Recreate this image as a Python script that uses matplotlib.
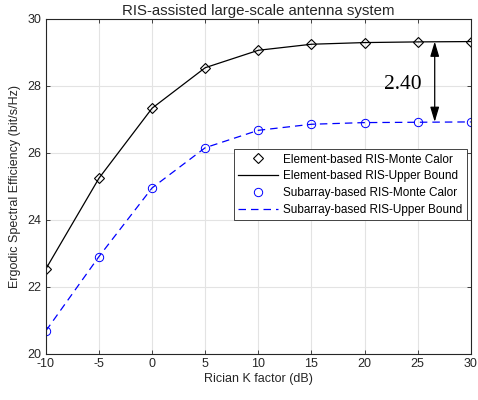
import matplotlib
matplotlib.use("Agg")
import matplotlib.pyplot as plt

plt.rcParams.update({"font.family": ["Liberation Sans", "DejaVu Sans"], "font.size": 9,
                     "axes.unicode_minus": False,
                     "xtick.direction": "in", "ytick.direction": "in",
                     "xtick.top": True, "ytick.right": True})

k_db = [-10, -5, 0, 5, 10, 15, 20, 25, 30]
elem_mc = [22.53, 25.24, 27.33, 28.54, 29.06, 29.24, 29.29, 29.31, 29.32]
elem_ub = [22.53, 25.24, 27.33, 28.54, 29.06, 29.24, 29.29, 29.31, 29.32]
sub_mc = [20.68, 22.90, 24.95, 26.15, 26.67, 26.85, 26.90, 26.91, 26.92]
sub_ub = [20.68, 22.90, 24.95, 26.15, 26.67, 26.85, 26.90, 26.91, 26.92]
xticks = [-10, -5, 0, 5, 10, 15, 20, 25, 30]
yticks = [20, 22, 24, 26, 28, 30]

fig = plt.figure(figsize=(4.78, 4.0), dpi=100)
ax = fig.add_axes([0.096, 0.116, 0.889, 0.837])

ax.plot(k_db, elem_mc, ls="none", marker="D", ms=5.2, mfc="none", mec="k", mew=0.8,
        label="Element-based RIS-Monte Calor")
ax.plot(k_db, elem_ub, color="k", lw=0.9, label="Element-based RIS-Upper Bound")
ax.plot(k_db, sub_mc, ls="none", marker="o", ms=6, mfc="none", mec="#0000ff", mew=0.7,
        label="Subarray-based RIS-Monte Calor")
ax.plot(k_db, sub_ub, color="#0000ff", lw=0.9, ls=(0, (6, 4)),
        label="Subarray-based RIS-Upper Bound")

# gap annotation at the high-K end
ax.annotate("", xy=(26.6, elem_ub[-1]), xytext=(26.6, sub_ub[-1]),
            arrowprops=dict(arrowstyle="<|-|>,head_length=1.0,head_width=0.3",
                            color="k", lw=0.9, shrinkA=0, shrinkB=0))
ax.text(25.4, 28.05, "%.2f" % (elem_ub[-1] - sub_ub[-1]), family="Liberation Serif",
        fontsize=15.5, ha="right", va="center")

ax.set_xlim(-10, 30)
ax.set_ylim(20, 30)
ax.set_xticks(xticks)
ax.set_yticks(yticks)
ax.grid(True, color="#e3e3e3", lw=0.8)
ax.set_axisbelow(True)
ax.tick_params(length=3, width=0.6, colors="#262626", labelcolor="#262626")
for s in ax.spines.values():
    s.set_linewidth(0.8)
    s.set_color("#262626")

ax.set_xlabel("Rician K factor (dB)", color="#262626", labelpad=2)
ax.set_ylabel("Ergodic Spectral Efficiency (bit/s/Hz)", color="#262626", labelpad=4)
ax.set_title("RIS-assisted large-scale antenna system", color="#262626", pad=3)

leg = ax.legend(loc="upper right", bbox_to_anchor=(0.99, 0.61), fontsize=8.5,
                fancybox=False, edgecolor="#262626", framealpha=1,
                borderpad=0.35, labelspacing=0.4, handlelength=3.4, handletextpad=0.4,
                borderaxespad=0)
leg.get_frame().set_linewidth(0.6)

fig.savefig("out.png", dpi=100)
